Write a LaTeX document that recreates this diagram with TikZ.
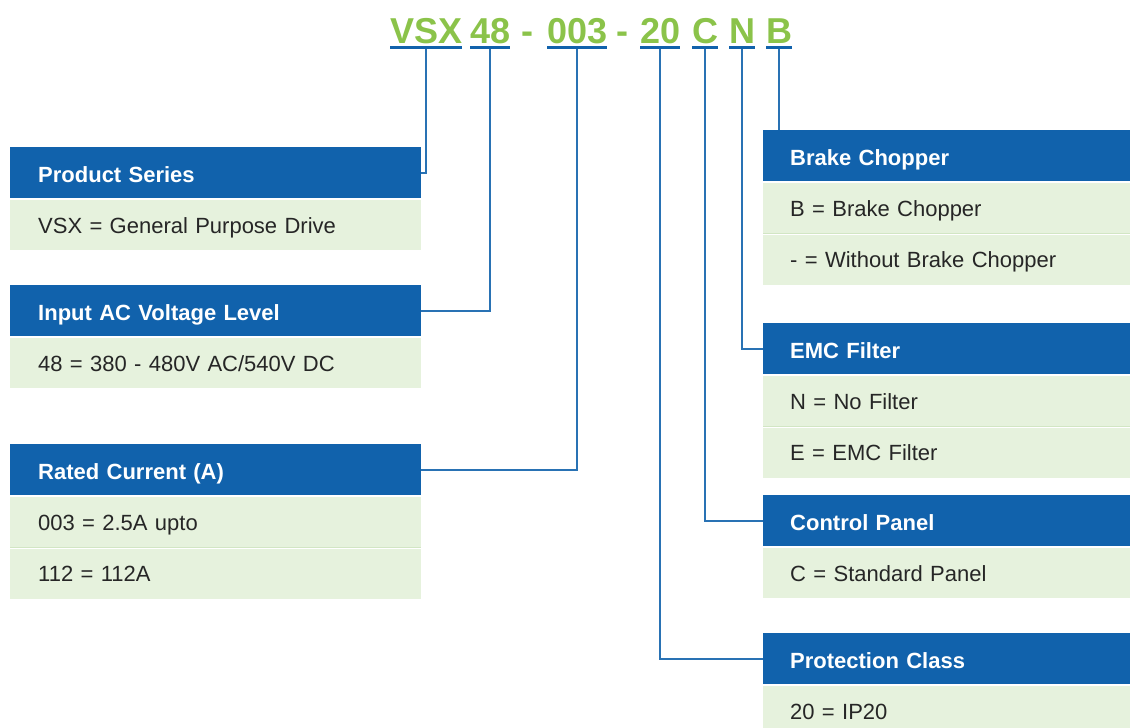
\documentclass[tikz,border=0pt]{standalone}
\usepackage{fontspec}
\setmainfont{Liberation Sans}
\usetikzlibrary{positioning}
\definecolor{hdrblue}{HTML}{1162AC}
\definecolor{rowgreen}{HTML}{E6F2DD}
\definecolor{sepgreen}{HTML}{D2E6C4}
\definecolor{codegreen}{HTML}{8BC34A}

\begin{document}
\begin{tikzpicture}[x=1pt, y=-1pt,
 hdr/.style={fill=hdrblue, text=white, anchor=north west, minimum height=51pt, align=left,
  text height=20pt, text depth=0pt, font=\fontsize{22}{25}\selectfont\bfseries},
 row/.style={fill=rowgreen, text=black!85, minimum height=50pt, align=left,
  text height=17pt, text depth=1pt, font=\fontsize{22}{25}\selectfont},
 lw/.style={text width=355pt, inner xsep=28pt},
 rw/.style={text width=313pt, inner xsep=27pt},
 code/.style={anchor=base west, inner sep=0pt, text=codegreen, font=\fontsize{36}{40}\selectfont\bfseries},
 uline/.style={draw=hdrblue, line width=3.5pt},
 conn/.style={draw=hdrblue!90, line width=1.6pt},
 sepline/.style={draw=sepgreen, line width=1.2pt},
 node distance=1.5pt
]
\useasboundingbox (0,0) rectangle (1130,728);

% type code
\node[code] (vsx) at (390,43) {VSX};
\node[code] (v48) at (470,43) {48};
\node[code] (dash1) at (521,43) {-};
\node[code] (c003) at (547,43) {003};
\node[code] (dash2) at (616,43) {-};
\node[code] (c20) at (640,43) {20};
\node[code] (cc) at (692,43) {C};
\node[code] (cn) at (729,43) {N};
\node[code] (cb) at (766,43) {B};

\draw[uline] ([yshift=-4.5pt]vsx.base west) -- ([yshift=-4.5pt]vsx.base east);
\draw[uline] ([yshift=-4.5pt]v48.base west) -- ([yshift=-4.5pt]v48.base east);
\draw[uline] ([yshift=-4.5pt]c003.base west) -- ([yshift=-4.5pt]c003.base east);
\draw[uline] ([yshift=-4.5pt]c20.base west) -- ([yshift=-4.5pt]c20.base east);
\draw[uline] ([yshift=-4.5pt]cc.base west) -- ([yshift=-4.5pt]cc.base east);
\draw[uline] ([yshift=-4.5pt]cn.base west) -- ([yshift=-4.5pt]cn.base east);
\draw[uline] ([yshift=-4.5pt]cb.base west) -- ([yshift=-4.5pt]cb.base east);

% left column
\node[hdr, lw] (ps) at (10,147) {Product Series};
\node[row, lw, below=of ps] (ps1) {VSX = General Purpose Drive};

\node[hdr, lw] (ac) at (10,285) {Input AC Voltage Level};
\node[row, lw, below=of ac] (ac1) {48 = 380 - 480V AC/540V DC};

\node[hdr, lw] (rc) at (10,444) {Rated Current (A)};
\node[row, lw, below=of rc] (rc1) {003 = 2.5A upto};
\node[row, lw, below=1pt of rc1] (rc2) {112 = 112A};

% right column
\node[hdr, rw] (bc) at (763,130) {Brake Chopper};
\node[row, rw, below=of bc] (bc1) {B = Brake Chopper};
\node[row, rw, below=1pt of bc1] (bc2) {- = Without Brake Chopper};

\node[hdr, rw] (emc) at (763,323) {EMC Filter};
\node[row, rw, below=of emc] (emc1) {N = No Filter};
\node[row, rw, below=1pt of emc1] (emc2) {E = EMC Filter};

\node[hdr, rw] (cp) at (763,495) {Control Panel};
\node[row, rw, below=of cp] (cp1) {C = Standard Panel};

\node[hdr, rw] (pc) at (763,633) {Protection Class};
\node[row, rw, below=of pc] (pc1) {20 = IP20};

% row separators
\draw[sepline] ([yshift=-0.5pt]rc1.south west) -- ([yshift=-0.5pt]rc1.south east);
\draw[sepline] ([yshift=-0.5pt]bc1.south west) -- ([yshift=-0.5pt]bc1.south east);
\draw[sepline] ([yshift=-0.5pt]emc1.south west) -- ([yshift=-0.5pt]emc1.south east);

% connectors
\draw[conn] ([yshift=-6pt]vsx.base) |- (ps.east);
\draw[conn] ([yshift=-6pt]v48.base) |- (ac.east);
\draw[conn] ([yshift=-6pt]c003.base) |- (rc.east);
\draw[conn] ([yshift=-6pt]c20.base) |- (pc.west);
\draw[conn] ([yshift=-6pt]cc.base) |- (cp.west);
\draw[conn] ([yshift=-6pt]cn.base) |- (emc.west);
\draw[conn] ([yshift=-6pt]cb.base) -- (cb.base |- bc.north);

\end{tikzpicture}
\end{document}
